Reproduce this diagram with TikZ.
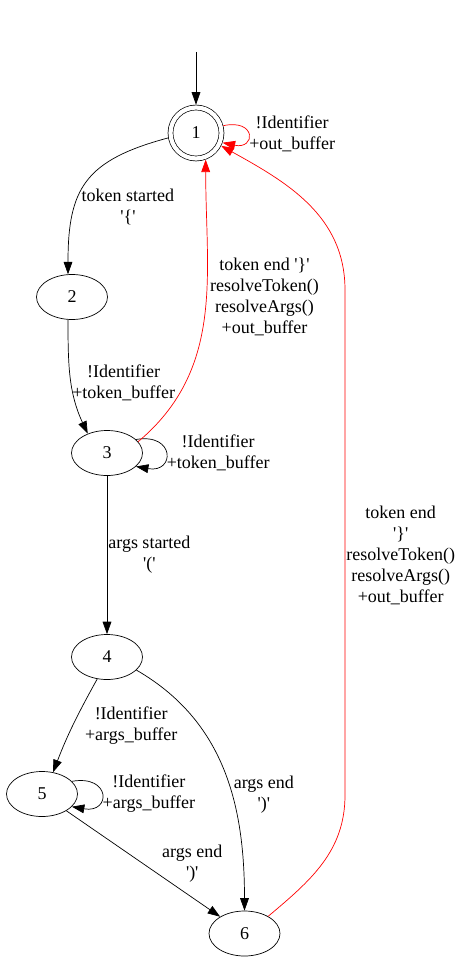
\documentclass[tikz,border=0pt]{standalone}
\usepackage{fontspec}
\setmainfont{Liberation Serif}
\usetikzlibrary{shapes.geometric,arrows.meta}
\newcommand{\sq}{\textquotesingle}

\begin{document}
\begin{tikzpicture}[x=1pt,y=1pt,->,>={Triangle[length=12.5pt,width=8.75pt]},line width=0.7pt,
		font=\fontsize{18}{21}\selectfont,
		base node/.style={ellipse,draw,minimum width=71pt,minimum height=45pt,inner sep=0pt},
		final node/.style={circle,draw,double,double distance=4.2pt,minimum size=51pt,outer sep=2.8pt},
		lbl/.style={align=center,inner sep=1pt,text=black}]
		\useasboundingbox (0,0) rectangle (463,-963);
		% Zustaende
		\node[final node] (s1) at (196,-133) {1};
		\node[base node] (s2) [node distance=164pt, below of=s1, xshift=-124pt] {2};
		\node[base node] (s3) [node distance=156pt, below of=s2, xshift=35pt] {3};
		\node[base node] (s4) [node distance=204pt, below of=s3] {4};
		\node[base node] (s5) [node distance=137pt, below of=s4, xshift=-65pt] {5};
		\node[base node] (s6) [node distance=276.5pt, below of=s4, xshift=137.5pt] {6};
		\coordinate (init) at ([yshift=81pt]s1.center);
		\coordinate (up6a) at (345,-795);
		\coordinate (up6b) at (345,-290);
		\path[->]
		(init) edge (s1)
		(s1.15) edge [red, out=12, in=-12, min distance=34pt] node [lbl, right] (l11) {!Identifier\\+out\_buffer} (s1.-20)
		(s1.190) edge [out=195, in=90, looseness=1.3] node [lbl, xshift=41pt, yshift=-25pt] (l12) {token started\\\sq\{\sq} (s2.100)
		(s2.-100) edge [out=-90, in=115] node [lbl, xshift=53pt, yshift=-5pt] (l23) {!Identifier\\+token\_buffer} (s3.135)
		(s3.25) edge [out=10, in=-10, min distance=40pt] node [lbl, right] (l33) {!Identifier\\+token\_buffer} (s3.-25)
		(s3.20) edge [red, out=40, in=-90] node [lbl, xshift=60pt, yshift=19pt] (l31) {token end \sq\}\sq\\resolveToken()\\resolveArgs()\\+out\_buffer} (s1.-70)
		(s3) edge node [lbl, right] (l34) {args started\\\sq(\sq} (s4)
		(s4.-114) edge [out=-119, in=69] node [lbl, xshift=58pt, yshift=-1pt] (l45) {!Identifier\\+args\_buffer} (s5.63)
		(s5.23) edge [out=10, in=-10, min distance=40pt] node [lbl, right] (l55) {!Identifier\\+args\_buffer} (s5.-23)
		(s4.-24) edge [out=-30, in=90] node [lbl, xshift=40pt, yshift=-24pt] (l46) {args end\\\sq)\sq} (s6)
		(s5) edge node [lbl, xshift=49pt] (l56) {args end\\\sq)\sq} (s6);
		% zurueck zu 1
		\draw[red] (s6.36) to[out=40, in=-90] (up6a) -- node [lbl, right, yshift=-13pt] (l61) {token end\\\sq\}\sq\\resolveToken()\\resolveArgs()\\+out\_buffer} (up6b) to[out=90, in=-29] (s1.-27);
\end{tikzpicture}
\end{document}
